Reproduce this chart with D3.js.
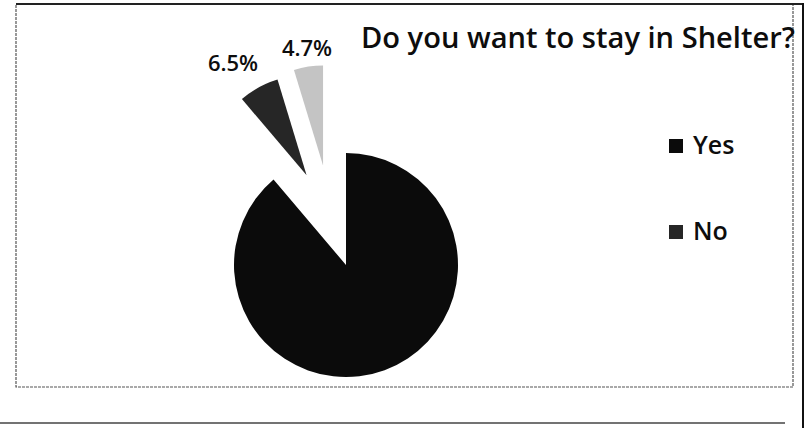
<!DOCTYPE html>
<html lang="en">
    <head>
        <meta charset="utf-8">
        <title>Do you want to stay in Shelter?</title>
        <script src="https://d3js.org/d3.v7.min.js" charset="utf-8"></script>
        <style>
        body {
            margin: 0;
            background: #fff;
        }
        svg {
            display: block;
            font-family: "Open Sans", "Noto Sans", sans-serif;
        }
        text {
            fill: #0d0d0d;
            font-weight: 600;
        }
        </style>
    </head>
    <body>
        <div id="vis_container"></div>
        <script type="text/javascript">
            // data
            var answers = ["Yes", "No", "Other"];
            var shares = [88.8, 6.5, 4.7];
            var shareLabels = ["", "6.5%", "4.7%"];
            var legendItems = ["Yes", "No"];

            var width = 811, height = 428;
            var svg = d3.select("#vis_container")
              .append("svg")
                .attr("width", width)
                .attr("height", height);

            // scanned frame lines
            svg.append("rect")
                .attr("x", 16).attr("y", 4)
                .attr("width", 777).attr("height", 383)
                .attr("fill", "none")
                .attr("stroke", "#555")
                .attr("stroke-width", 1.2)
                .attr("stroke-dasharray", "3 1");
            svg.append("line")
                .attr("x1", 16).attr("x2", 804).attr("y1", 4).attr("y2", 4)
                .attr("stroke", "#222").attr("stroke-width", 2);
            svg.append("line")
                .attr("x1", 803).attr("x2", 803).attr("y1", 3).attr("y2", 428)
                .attr("stroke", "#111").attr("stroke-width", 2);
            svg.append("line")
                .attr("x1", 0).attr("x2", 785).attr("y1", 423).attr("y2", 423)
                .attr("stroke", "#444").attr("stroke-width", 1.5);

            var colour = d3.scaleOrdinal()
                .domain(answers)
                .range(["#0b0b0b", "#262626", "#c4c4c4"]);

            var pie = d3.pie().sort(null).value(function(d) { return d; });
            var arcs = pie(shares);

            var cx = 346, cy = 265;
            var mainArc = d3.arc().innerRadius(0).outerRadius(112);
            var smallArc = d3.arc().innerRadius(0).outerRadius(100);
            // explosion of the two small slices (distance, direction in degrees from 12 o'clock)
            var explode = [null, {dist: 98, angle: -23.7}, {dist: 102, angle: -13}];

            var chart = svg.append("g")
                .attr("transform", "translate(" + cx + "," + cy + ")");

            chart.selectAll(".slice")
                .data(arcs)
              .enter().append("path")
                .attr("class", "slice")
                .attr("fill", function(d, i) { return colour(answers[i]); })
                .attr("d", function(d, i) { return explode[i] ? smallArc(d) : mainArc(d); })
                .attr("transform", function(d, i) {
                    if (!explode[i]) return null;
                    var a = explode[i].angle * Math.PI / 180;
                    return "translate(" + (explode[i].dist * Math.sin(a)) + "," + (-explode[i].dist * Math.cos(a)) + ")";
                });

            // percentage labels above the exploded slices
            var labelPos = [null, [233, 71], [307, 56]];
            svg.selectAll(".pct")
                .data(shareLabels)
              .enter().filter(function(d) { return d !== ""; })
              .append("text")
                .attr("class", "pct")
                .attr("x", function(d) { return labelPos[shareLabels.indexOf(d)][0]; })
                .attr("y", function(d) { return labelPos[shareLabels.indexOf(d)][1]; })
                .attr("text-anchor", "middle")
                .style("font-size", "22px")
                .text(function(d) { return d; });

            svg.append("text")
                .attr("x", 361)
                .attr("y", 48)
                .attr("textLength", 434)
                .attr("lengthAdjust", "spacingAndGlyphs")
                .style("font-size", "28px")
                .text("Do you want to stay in Shelter?");

            var legend = svg.selectAll(".legend")
                .data(legendItems)
              .enter().append("g")
                .attr("class", "legend")
                .attr("transform", function(d, i) { return "translate(669," + (139 + i * 86) + ")"; });
            legend.append("rect")
                .attr("width", 14).attr("height", 14)
                .attr("fill", function(d, i) { return colour(answers[i]); });
            legend.append("text")
                .attr("x", 24)
                .attr("y", 15)
                .style("font-size", "25px")
                .text(function(d) { return d; });
        </script>
    </body>
</html>
